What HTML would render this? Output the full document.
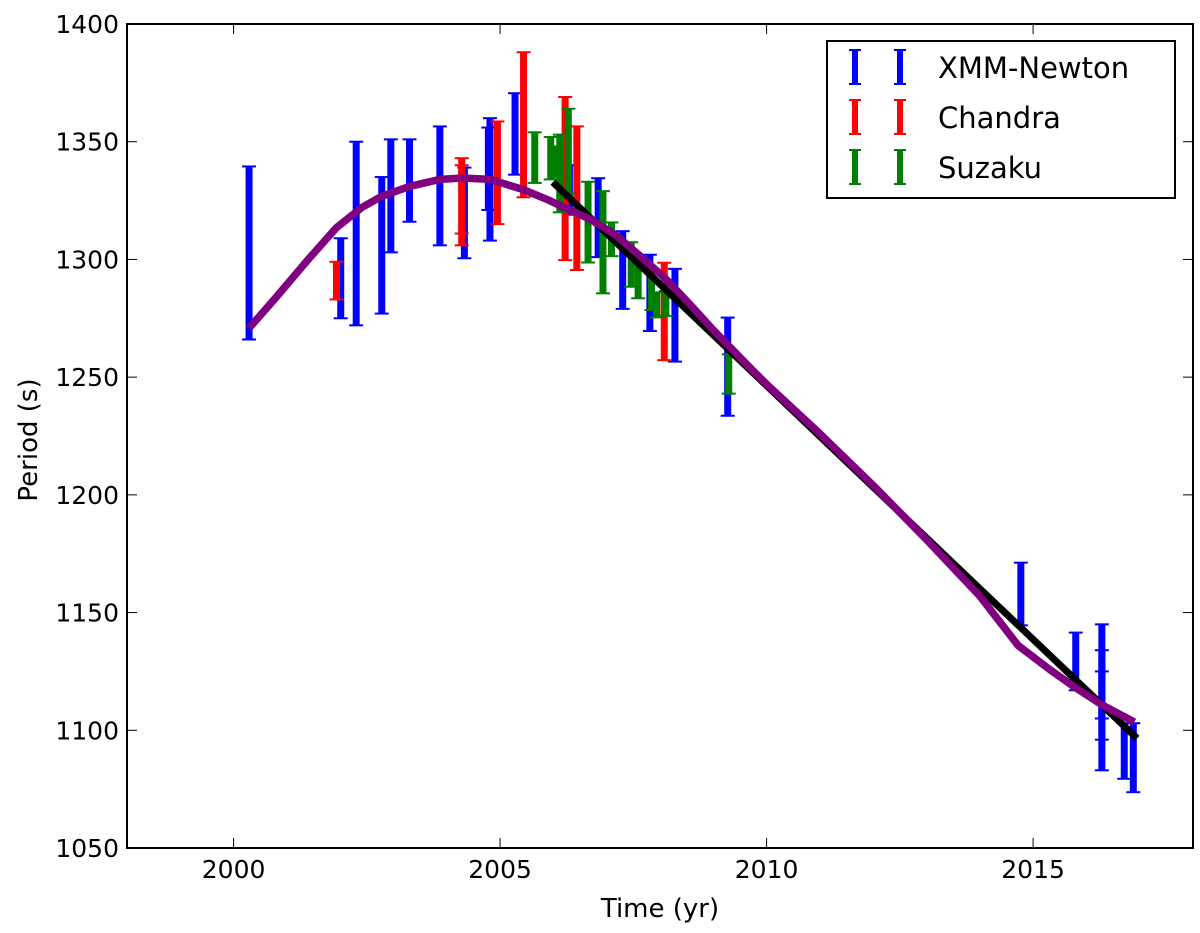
<!DOCTYPE html>
<html><head><meta charset="utf-8"><style>
body{margin:0;background:#fff;}
svg{display:block;font-family:"DejaVu Sans","Liberation Sans",sans-serif;}
</style></head><body>
<svg id="chart" width="1200" height="933" viewBox="0 0 1200 933" xmlns="http://www.w3.org/2000/svg"></svg>
<script>
const xTicks = [2000, 2005, 2010, 2015];
const yTicks = [1050, 1100, 1150, 1200, 1250, 1300, 1350, 1400];

const xmmT  = [2000.29, 2002.01, 2002.30, 2002.78, 2002.95, 2003.30, 2003.87, 2004.33, 2004.81, 2004.78, 2005.28, 2006.30, 2006.84, 2007.30, 2007.81, 2008.28, 2009.27, 2014.77, 2015.80, 2016.29, 2016.29, 2016.29, 2016.71, 2016.88];
const xmmLo = [1266, 1275, 1272, 1277, 1303, 1316, 1306, 1300.5, 1308, 1321, 1336, 1319, 1301, 1279, 1269.6, 1256.6, 1233.6, 1144.6, 1117, 1083, 1096, 1105, 1079.4, 1073.7];
const xmmHi = [1339.5, 1309, 1350, 1335, 1351, 1351, 1356.5, 1339, 1360, 1356, 1370.6, 1340, 1334.5, 1312, 1302, 1296, 1275.3, 1171.2, 1141.5, 1145, 1134, 1125, 1103, 1103];

const chaT  = [2001.93, 2004.28, 2004.28, 2004.95, 2005.44, 2006.22, 2006.44, 2008.08];
const chaLo = [1283, 1306, 1311, 1315, 1326.4, 1299.7, 1295.5, 1257.2];
const chaHi = [1299, 1343, 1340, 1358.6, 1388, 1369, 1356.5, 1298.6];

const suzT  = [2005.65, 2005.95, 2006.05, 2006.12, 2006.28, 2006.65, 2006.93, 2007.09, 2007.46, 2007.59, 2007.84, 2007.94, 2008.11, 2009.29];
const suzLo = [1332.5, 1334, 1335, 1320, 1328, 1298.7, 1285.6, 1301.4, 1288.4, 1283.5, 1278.5, 1275.4, 1276, 1243];
const suzHi = [1354, 1352, 1348, 1353, 1364, 1333, 1329, 1315.7, 1307.3, 1301.4, 1296, 1286, 1286.6, 1259.7];

const fitT = [2005.99, 2016.95];
const fitV = [1332.8, 1096.6];

const modelT = [2000.29, 2000.8, 2001.4, 2001.93, 2002.4, 2002.78, 2003.3, 2003.87, 2004.3, 2004.81, 2005.43, 2005.93, 2006.25, 2006.7, 2007.19, 2007.6, 2008.12, 2008.6, 2009.0, 2009.69, 2010.0, 2011.0, 2012.0, 2013.0, 2014.0, 2014.72, 2015.3, 2015.8, 2016.3, 2016.9];
const modelV = [1270.8, 1284, 1300, 1313.5, 1322, 1326.8, 1331, 1334, 1334.6, 1334, 1329.7, 1325, 1321.5, 1317, 1310, 1302, 1291.5, 1280, 1270, 1254, 1247, 1226, 1204, 1181, 1157, 1136, 1126, 1118, 1110.7, 1103.5];

const L = 127, R = 1193, T = 24, B = 848;
const X0 = 1998, X1 = 2018, Y0 = 1050, Y1 = 1400;
function xs(t){ return L + (t - X0) / (X1 - X0) * (R - L); }
function ys(v){ return B - (v - Y0) / (Y1 - Y0) * (B - T); }

const NS = "http://www.w3.org/2000/svg";
const svg = document.getElementById('chart');
function mk(tag, attrs, parent){
  const e = document.createElementNS(NS, tag);
  for (const k in attrs) e.setAttribute(k, attrs[k]);
  (parent || svg).appendChild(e);
  return e;
}

function drawSeries(ts, lo, hi, color, name){
  const g = mk('g', {});
  
  
  for (let i = 0; i < ts.length; i++){
    const x = xs(ts[i]), y1 = ys(lo[i]), y2 = ys(hi[i]);
    const bar = mk('line', {x1:x, x2:x, y1:y1, y2:y2, stroke:color, 'stroke-width':7}, g);
    
    
    mk('line', {x1:x-7, x2:x+7, y1:y1, y2:y1, stroke:color, 'stroke-width':2}, g);
    mk('line', {x1:x-7, x2:x+7, y1:y2, y2:y2, stroke:color, 'stroke-width':2}, g);
  }
}
drawSeries(xmmT, xmmLo, xmmHi, '#0000ff', 'xmm-newton');
drawSeries(chaT, chaLo, chaHi, '#ff0000', 'chandra');
drawSeries(suzT, suzLo, suzHi, '#007f00', 'suzaku');

const fit = mk('polyline', {points: fitT.map((t,i)=>xs(t)+','+ys(fitV[i])).join(' '), fill:'none', stroke:'#000', 'stroke-width':7});


const model = mk('polyline', {points: modelT.map((t,i)=>xs(t)+','+ys(modelV[i])).join(' '), fill:'none', stroke:'#800080', 'stroke-width':7.5, 'stroke-linejoin':'round'});



const frame = mk('rect', {x:L, y:T, width:R-L, height:B-T, fill:'none', stroke:'#000', 'stroke-width':2});



xTicks.forEach(t => {
  const x = xs(t);
  mk('line', {x1:x, x2:x, y1:B, y2:B-10, stroke:'#000', 'stroke-width':1});
  mk('line', {x1:x, x2:x, y1:T, y2:T+10, stroke:'#000', 'stroke-width':1});
  const lab = mk('text', {x:x, y:B+30, 'font-size':25, 'text-anchor':'middle'});
  lab.textContent = t;
  
  
});
yTicks.forEach(v => {
  const y = ys(v);
  mk('line', {x1:L, x2:L+10, y1:y, y2:y, stroke:'#000', 'stroke-width':1});
  mk('line', {x1:R, x2:R-10, y1:y, y2:y, stroke:'#000', 'stroke-width':1});
  const lab = mk('text', {x:L-8, y:y+9, 'font-size':25, 'text-anchor':'end'});
  lab.textContent = v;
  
  
});

const xt = mk('text', {x:660, y:917, 'font-size':26, 'text-anchor':'middle'});
xt.textContent = 'Time (yr)';


const yt = mk('text', {x:0, y:0, 'font-size':26, 'text-anchor':'middle', transform:'translate(37,440) rotate(-90)'});
yt.textContent = 'Period (s)';



const lg = mk('g', {});


mk('rect', {x:827, y:41, width:348, height:157, fill:'#fff', stroke:'#000', 'stroke-width':2}, lg);
const legNames = ['XMM-Newton', 'Chandra', 'Suzaku'];
const legColors = ['#0000ff', '#ff0000', '#007f00'];
const legY = [67, 117, 167];
for (let i = 0; i < 3; i++){
  const y = legY[i];
  [855, 900].forEach(x => {
    mk('line', {x1:x, x2:x, y1:y-17, y2:y+17, stroke:legColors[i], 'stroke-width':6}, lg);
    mk('line', {x1:x-6, x2:x+6, y1:y-17, y2:y-17, stroke:legColors[i], 'stroke-width':2}, lg);
    mk('line', {x1:x-6, x2:x+6, y1:y+17, y2:y+17, stroke:legColors[i], 'stroke-width':2}, lg);
  });
  const tx = mk('text', {x:938, y:y+11, 'font-size':29}, lg);
  tx.textContent = legNames[i];
  
  
}
</script>
</body></html>
